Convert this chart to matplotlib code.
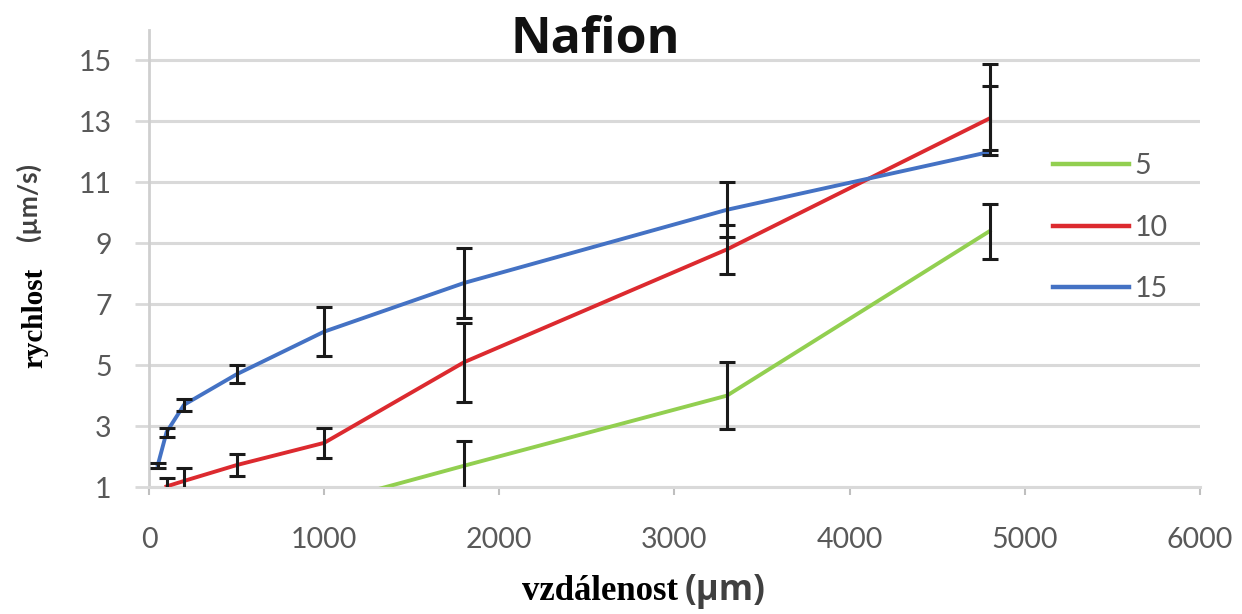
import numpy as np
import matplotlib.pyplot as plt

# data
x_5 = [1000, 1800, 3300, 4800]
y_5 = [0.45, 1.7, 4.0, 9.4]
err_5 = [0.0, 0.8, 1.1, 0.9]

x_10 = [100, 200, 500, 1000, 1800, 3300, 4800]
y_10 = [1.02, 1.2, 1.72, 2.45, 5.1, 8.8, 13.1]
err_10 = [0.28, 0.42, 0.35, 0.5, 1.3, 0.8, 1.05]

x_15 = [50, 100, 200, 500, 1000, 1800, 3300, 4800]
y_15 = [1.72, 2.8, 3.7, 4.7, 6.1, 7.7, 10.1, 12.0]
err_15_low = [0.08, 0.15, 0.2, 0.3, 0.8, 1.15, 0.9, 0.1]
err_15_high = [0.08, 0.15, 0.2, 0.3, 0.8, 1.15, 0.9, 2.9]

x_ticks = [0, 1000, 2000, 3000, 4000, 5000, 6000]
y_ticks = [1, 3, 5, 7, 9, 11, 13, 15]

green = '#92cf50'
red = '#dc2a2f'
blue = '#4472c4'
grid_c = '#d9d9d9'
tick_c = '#595959'

fig = plt.figure(figsize=(12.42, 6.14), dpi=100)
ax = fig.add_axes([0.12, 0.2068, 0.846, 0.7443])

ax.plot(x_5, y_5, color=green, lw=2.8, label='5', zorder=3)
ax.plot(x_10, y_10, color=red, lw=2.8, label='10', zorder=3)
ax.plot(x_15, y_15, color=blue, lw=2.8, label='15', zorder=3)

eb = dict(fmt='none', ecolor='#1a1a1a', elinewidth=2.2, capsize=5.8, capthick=2.2, zorder=4)
ax.errorbar(x_5, y_5, yerr=err_5, **eb)
ax.errorbar(x_10, y_10, yerr=err_10, **eb)
ax.errorbar(x_15, y_15, yerr=[err_15_low, err_15_high], **eb)

ax.set_xlim(0, 6000)
ax.set_ylim(1, 16)
ax.set_xticks(x_ticks)
ax.set_yticks(y_ticks)
ax.grid(axis='y', color=grid_c, lw=2.2, zorder=0)
ax.set_axisbelow(True)

for s in ['top', 'right']:
    ax.spines[s].set_visible(False)
ax.spines['left'].set_color('#cfcfcf')
ax.spines['left'].set_linewidth(2)
ax.spines['bottom'].set_color(grid_c)
ax.spines['bottom'].set_linewidth(2.2)

ax.tick_params(axis='y', length=10, width=2, color=grid_c, pad=17,
               labelsize=20.5, labelcolor=tick_c)
ax.tick_params(axis='x', length=6, width=1.5, color='#bfbfbf', pad=23,
               labelsize=20.5, labelcolor=tick_c)
for lab in ax.get_xticklabels() + ax.get_yticklabels():
    lab.set_family('Lato')

leg = ax.legend(loc='upper left', bbox_to_anchor=(0.847, 0.762), frameon=False,
                handlelength=2.65, handletextpad=0.2, labelspacing=1.25,
                borderpad=0, prop={'family': 'Lato', 'size': 20.5})
for t in leg.get_texts():
    t.set_color(tick_c)
for h in leg.get_lines():
    h.set_linewidth(3.2)

fig.text(0.479, 0.914, 'Nafion', ha='center', va='baseline',
         fontsize=36, fontweight='bold', family='Open Sans', color='#111111')

fig.text(0.546, 0.022, 'vzdálenost', ha='right', va='baseline',
         fontsize=25, fontweight='bold', family='Liberation Serif', color='black')
fig.text(0.5515, 0.022, '(µm)', ha='left', va='baseline',
         fontsize=25, fontweight='bold', family='Open Sans', color='#404040')

fig.text(0.028, 0.482, 'rychlost', ha='center', va='center', rotation=90,
         fontsize=21, fontweight='bold', family='Liberation Serif', color='black')
fig.text(0.023, 0.671, '(µm/s)', ha='center', va='center', rotation=90,
         fontsize=19, fontweight='bold', family='Lato', color='#404040')

fig.savefig('out.png', dpi=100)
